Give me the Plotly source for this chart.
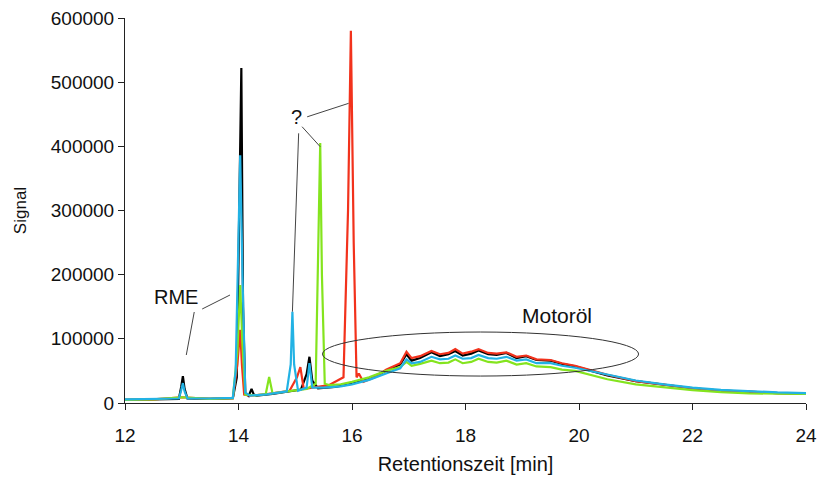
import plotly.graph_objects as go

# ---- data ----
black_x = [12.0, 12.5, 12.95, 12.99, 13.02, 13.05, 13.1, 13.5, 13.9, 13.97, 14.02, 14.05, 14.08, 14.12, 14.18, 14.23, 14.27, 14.32, 14.6, 14.9, 15.1, 15.2, 15.25, 15.3, 15.4, 15.7, 16.0, 16.3, 16.6, 16.85, 16.96, 17.05, 17.2, 17.4, 17.55, 17.7, 17.82, 17.95, 18.1, 18.23, 18.4, 18.55, 18.72, 18.9, 19.07, 19.25, 19.5, 19.7, 19.93, 20.2, 20.5, 21.0, 21.5, 22.0, 22.5, 23.0, 23.5, 24.0]
black_y = [5000, 5500, 6500, 25000, 42000, 22000, 7000, 6500, 7500, 40000, 300000, 522000, 150000, 15000, 11000, 22000, 13000, 11500, 14000, 18000, 21000, 45000, 72000, 35000, 23000, 25000, 30000, 38000, 50000, 60000, 76000, 66000, 70000, 79000, 73000, 76000, 81000, 74000, 77000, 82000, 76000, 75000, 78000, 70000, 73000, 67000, 66000, 61000, 57000, 50000, 43000, 34000, 28000, 23000, 19500, 17000, 15500, 14500]

red_x = [12.0, 12.5, 13.0, 13.5, 13.9, 13.98, 14.03, 14.06, 14.1, 14.2, 14.5, 14.9, 15.03, 15.09, 15.15, 15.3, 15.6, 15.85, 15.93, 15.98, 16.03, 16.08, 16.12, 16.2, 16.4, 16.6, 16.85, 16.96, 17.05, 17.2, 17.4, 17.55, 17.7, 17.82, 17.95, 18.1, 18.23, 18.4, 18.55, 18.72, 18.9, 19.07, 19.25, 19.5, 19.7, 19.93, 20.2, 20.5, 21.0, 21.5, 22.0, 22.5, 23.0, 23.5, 24.0]
red_y = [5000, 5500, 9000, 6500, 7500, 60000, 114000, 60000, 13000, 11500, 14000, 19000, 40000, 56000, 22000, 24000, 28000, 40000, 300000, 580000, 250000, 40000, 46000, 33000, 40000, 52000, 62000, 80000, 70000, 73000, 81000, 76000, 78000, 84000, 77000, 80000, 84000, 78000, 77000, 79000, 72000, 74000, 68000, 67000, 62000, 58000, 51000, 44000, 34000, 28000, 23000, 19500, 17000, 15500, 14500]

green_x = [12.0, 12.5, 13.0, 13.5, 13.9, 13.98, 14.03, 14.07, 14.12, 14.3, 14.48, 14.54, 14.6, 14.8, 15.0, 15.2, 15.36, 15.41, 15.44, 15.47, 15.52, 15.6, 15.8, 16.0, 16.3, 16.6, 16.85, 16.96, 17.05, 17.2, 17.4, 17.55, 17.7, 17.82, 17.95, 18.1, 18.23, 18.4, 18.55, 18.72, 18.9, 19.07, 19.25, 19.5, 19.7, 19.93, 20.2, 20.5, 21.0, 21.5, 22.0, 22.5, 23.0, 23.5, 24.0]
green_y = [5000, 5500, 9000, 6500, 7500, 80000, 184000, 90000, 13000, 12000, 14000, 40500, 15000, 17000, 20000, 22000, 30000, 250000, 405000, 200000, 30000, 28000, 29000, 33000, 40000, 50000, 56000, 64000, 58000, 61000, 66000, 62000, 63000, 68000, 62000, 64000, 69000, 64000, 63000, 66000, 60000, 62000, 57000, 56000, 52000, 50000, 44000, 37000, 29000, 24000, 20000, 17000, 15000, 14500, 14000]

cyan_x = [12.0, 12.5, 12.95, 12.99, 13.02, 13.05, 13.1, 13.5, 13.9, 13.95, 14.0, 14.03, 14.07, 14.12, 14.2, 14.5, 14.85, 14.92, 14.95, 14.98, 15.05, 15.2, 15.25, 15.3, 15.5, 15.8, 16.0, 16.3, 16.6, 16.85, 16.96, 17.05, 17.2, 17.4, 17.55, 17.7, 17.82, 17.95, 18.1, 18.23, 18.4, 18.55, 18.72, 18.9, 19.07, 19.25, 19.5, 19.7, 19.93, 20.2, 20.5, 21.0, 21.5, 22.0, 22.5, 23.0, 23.5, 24.0]
cyan_y = [5500, 6000, 7000, 20000, 31000, 18000, 7000, 7000, 8000, 50000, 300000, 386000, 200000, 16000, 11500, 13500, 18000, 60000, 142000, 60000, 19000, 24000, 62000, 24000, 24000, 26000, 29000, 36000, 46000, 54000, 68000, 62000, 64000, 72000, 68000, 69000, 74000, 69000, 70000, 75000, 70000, 69000, 72000, 66000, 68000, 62000, 62000, 58000, 55000, 50000, 44000, 35000, 29000, 24000, 20500, 18000, 16500, 15500]

x_ticks = [12, 14, 16, 18, 20, 22, 24]
y_ticks = [0, 100000, 200000, 300000, 400000, 500000, 600000]

series = [
    ("black", black_x, black_y, "#000000"),
    ("red", red_x, red_y, "#f2321c"),
    ("green", green_x, green_y, "#84e41e"),
    ("cyan", cyan_x, cyan_y, "#22b2e4"),
]

FONT = "Liberation Sans, Arial, sans-serif"

fig = go.Figure()
for name, xs, ys, col in series:
    fig.add_trace(go.Scatter(x=xs, y=ys, mode="lines", name=name,
                             line=dict(color=col, width=2.2), showlegend=False))

line_col = "#444444"
leaders = [
    (13.08, 74800, 13.22, 141800),
    (13.36, 146500, 13.85, 168300),
    (15.21, 446000, 15.94, 467000),
    (15.12, 430600, 15.44, 399400),
    (15.06, 420300, 14.95, 142300),
]
shapes = [dict(type="line", xref="x", yref="y", x0=a, y0=b, x1=c, y1=d,
               line=dict(color=line_col, width=1)) for a, b, c, d in leaders]
shapes.append(dict(type="circle", xref="x", yref="y", x0=15.48, x1=21.05,
                   y0=42000, y1=110600, line=dict(color="#333333", width=1)))

annotations = [
    dict(x=12.9, y=165000, text="RME", showarrow=False, font=dict(size=20, family=FONT, color="#111")),
    dict(x=15.03, y=445700, text="?", showarrow=False, font=dict(size=20, family=FONT, color="#111")),
    dict(x=19.62, y=135600, text="Motoröl", showarrow=False, font=dict(size=21, family=FONT, color="#111")),
]

fig.update_layout(
    template="none",
    width=820, height=481,
    margin=dict(l=125, r=14, t=18, b=78, pad=0),
    paper_bgcolor="white", plot_bgcolor="white",
    font=dict(family=FONT, size=19, color="#111"),
    shapes=shapes, annotations=annotations,
)
fig.update_xaxes(range=[12, 24], tickvals=x_ticks, ticks="outside", ticklen=6, tickcolor="#222",
                 showline=True, linecolor="#222", linewidth=1, showgrid=False, zeroline=False,
                 automargin=False, ticklabelstandoff=9,
                 title=dict(text="Retentionszeit [min]", font=dict(size=20), standoff=12))
fig.update_yaxes(range=[0, 600000], tickvals=y_ticks, tickformat="d", ticks="outside", ticklen=6, tickcolor="#222",
                 showline=True, linecolor="#222", linewidth=1, showgrid=False, zeroline=False,
                 automargin=False,
                 title=dict(text="Signal", font=dict(size=17), standoff=19))

fig.write_html("out.html")
